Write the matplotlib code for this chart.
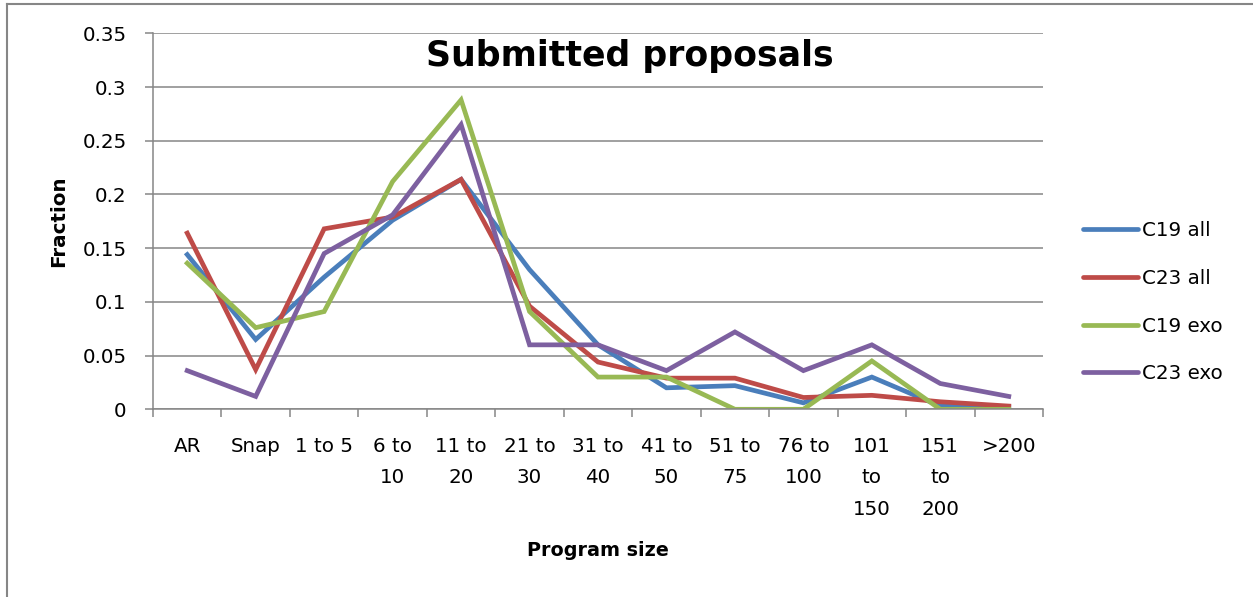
import matplotlib
matplotlib.use("Agg")
import matplotlib.pyplot as plt
from matplotlib.lines import Line2D
import numpy as np

plt.rcParams['font.family'] = ['DejaVu Sans']

categories = ["AR", "Snap", "1 to 5", "6 to\n10", "11 to\n20", "21 to\n30", "31 to\n40",
              "41 to\n50", "51 to\n75", "76 to\n100", "101\nto\n150", "151\nto\n200", ">200"]

c19_all = [0.144, 0.065, 0.123, 0.176, 0.214, 0.130, 0.060, 0.020, 0.022, 0.006, 0.030, 0.003, 0.002]
c23_all = [0.164, 0.037, 0.168, 0.179, 0.214, 0.096, 0.044, 0.029, 0.029, 0.011, 0.013, 0.007, 0.003]
c19_exo = [0.136, 0.076, 0.091, 0.212, 0.288, 0.091, 0.030, 0.030, 0.0, 0.0, 0.045, 0.0, 0.0]
c23_exo = [0.036, 0.012, 0.145, 0.181, 0.265, 0.060, 0.060, 0.036, 0.072, 0.036, 0.060, 0.024, 0.012]

series = [
    ("C19 all", c19_all, "#4A7EBB"),
    ("C23 all", c23_all, "#BE4B48"),
    ("C19 exo", c19_exo, "#98B954"),
    ("C23 exo", c23_exo, "#7D60A0"),
]

W, H = 1253, 597
fig = plt.figure(figsize=(W / 100, H / 100), dpi=100)
ax = fig.add_axes([153 / W, 1 - 409.3 / H, (1043 - 153) / W, (409.3 - 33.3) / H])

x = np.arange(len(categories))
handles = []
for name, vals, col in series:
    h, = ax.plot(x, vals, color=col, lw=3.4, solid_joinstyle='miter', label=name)
    handles.append(h)

grid_col = "#868686"
ax.set_xlim(-0.5, len(categories) - 0.5)
ax.set_ylim(0, 0.35)
ax.set_yticks(np.arange(0, 0.351, 0.05))
ax.set_yticklabels(["0", "0.05", "0.1", "0.15", "0.2", "0.25", "0.3", "0.35"])
ax.yaxis.grid(True, color=grid_col, lw=1.1)
ax.set_axisbelow(True)

ax.set_xticks(x)
ax.set_xticklabels(categories, linespacing=1.82, va='top')
ax.set_xticks(np.arange(-0.5, len(categories), 1.0), minor=True)
ax.tick_params(axis='x', which='major', length=0, pad=20, labelsize=14.3)
ax.tick_params(axis='x', which='minor', length=6, color=grid_col, width=1.1)
ax.tick_params(axis='y', length=6, color=grid_col, width=1.1, pad=13, labelsize=14.3)

for side in ['top', 'right']:
    ax.spines[side].set_visible(False)
for side in ['left', 'bottom']:
    ax.spines[side].set_color(grid_col)
    ax.spines[side].set_linewidth(1.1)

fig.text(630 / W, 1 - 56 / H, "Submitted proposals", ha='center', va='center',
         fontsize=25, fontweight='bold')
fig.text(598 / W, 1 - 550 / H, "Program size", ha='center', va='center',
         fontsize=13.8, fontweight='bold')
fig.text(59 / W, 1 - 221 / H, "Fraction", ha='center', va='center', rotation=90,
         fontsize=14.3, fontweight='bold')

leg = fig.legend(handles=handles, loc='upper left', bbox_to_anchor=(1083 / W, 1 - 221 / H),
                 frameon=False, fontsize=14.3, handlelength=2.75, handletextpad=0.2,
                 labelspacing=1.45, borderpad=0, borderaxespad=0)
for ln in leg.get_lines():
    ln.set_solid_capstyle('round')

# outer chart frame: top and left edges
fig.add_artist(Line2D([7 / W, 1], [1 - 3.5 / H, 1 - 3.5 / H], transform=fig.transFigure,
                      color=grid_col, lw=1.5))
fig.add_artist(Line2D([7 / W, 7 / W], [0, 1 - 3.5 / H], transform=fig.transFigure,
                      color=grid_col, lw=1.5))

fig.savefig("out.png", dpi=100)
